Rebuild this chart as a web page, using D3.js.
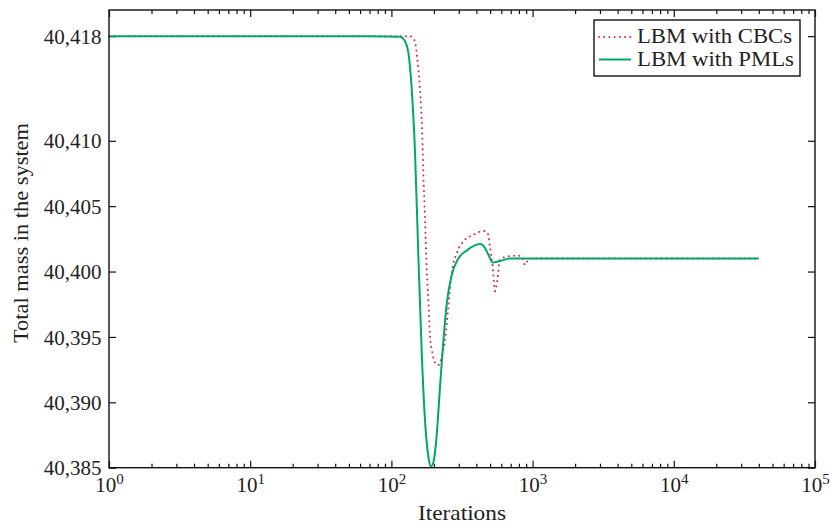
<!DOCTYPE html>
<html>
<head>
<meta charset="utf-8">
<script src="https://cdn.jsdelivr.net/npm/d3@7"></script>
<style>
  html, body { margin: 0; padding: 0; background: #fff; }
  svg text { font-family: "Liberation Serif", "Times New Roman", serif; fill: #222; }
</style>
</head>
<body>
<svg id="chart" width="830" height="527"></svg>
<script>
// ---- data ----
const seriesNames = ["LBM with CBCs", "LBM with PMLs"];

const cbcIter = [1, 70, 120, 135.5, 147, 152, 159, 164, 168, 173, 178, 183, 188, 195, 204, 215, 227, 240, 253, 267, 290, 323, 380, 448, 478, 499, 521, 542, 562, 587, 638, 730, 814, 859, 883, 933, 1012, 2000, 40000];
const cbcMass = [40418, 40418, 40418, 40418, 40417.6, 40416.4, 40414.1, 40411.6, 40407.8, 40404.0, 40400.1, 40397.6, 40395.0, 40393.8, 40393.0, 40392.85, 40393.5, 40394.8, 40397.3, 40399.9, 40401.4, 40402.3, 40402.8, 40403.1, 40403.0, 40401.9, 40400.4, 40398.5, 40399.3, 40400.9, 40401.1, 40401.2, 40401.2, 40400.9, 40400.5, 40400.9, 40401.0, 40401.0, 40401.0];

const pmlIter = [1, 70, 115, 125, 132, 139, 147, 155, 164, 173, 183, 191, 200, 209, 221, 233, 247, 267, 298, 341, 424, 460, 486, 521, 587, 692, 772, 1840, 40000];
const pmlMass = [40418, 40418, 40417.95, 40417.6, 40416.7, 40414.1, 40409.1, 40401.4, 40393.8, 40388.6, 40385.8, 40385.1, 40385.6, 40387.4, 40391.2, 40394.6, 40397.6, 40399.7, 40401.0, 40401.6, 40402.1, 40401.8, 40401.3, 40400.7, 40400.8, 40401.0, 40401.0, 40401.0, 40401.0];

const yTickValues = [40385, 40390, 40395, 40400, 40405, 40410, 40418];
const xMajorTicks = [1, 10, 100, 1000, 10000, 100000];
const xMinorTicks = [];
for (let e = 0; e < 5; e++) for (let m = 2; m <= 9; m++) xMinorTicks.push(m * Math.pow(10, e));

// ---- layout ----
const svg = d3.select("#chart");
const L = 109, R = 815, T = 10, B = 467.7;
const x = d3.scaleLog().domain([1, 1e5]).range([L, R]);
const y = d3.scaleLinear().domain([40385, 40420]).range([B, T]);

const colRed = "#e2264f";
const colGreen = "#00a865";

function styleAxis(g) {
  g.select(".domain").remove();
  g.selectAll(".tick line").attr("stroke", "#111").attr("stroke-width", 1.2);
}
// bottom majors
const gxB = svg.append("g").attr("transform", `translate(0,${B})`)
  .call(d3.axisBottom(x).tickValues(xMajorTicks).tickSize(-7).tickFormat(""));
styleAxis(gxB);
gxB.selectAll(".tick").each(function(d) {
  const t = d3.select(this).append("text")
    .attr("x", 0).attr("y", 24.5).attr("text-anchor", "middle")
    .style("font-size", "21px");
  t.append("tspan").text("10");
  t.append("tspan").attr("dy", "-8").style("font-size", "15px").text(Math.round(Math.log10(d)));
});
svg.append("g").attr("transform", `translate(0,${B})`)
  .call(d3.axisBottom(x).tickValues(xMinorTicks).tickSize(-4).tickFormat(""))
  .call(styleAxis);
// top
svg.append("g").attr("transform", `translate(0,${T})`)
  .call(d3.axisTop(x).tickValues(xMajorTicks).tickSize(-7).tickFormat(""))
  .call(styleAxis);
svg.append("g").attr("transform", `translate(0,${T})`)
  .call(d3.axisTop(x).tickValues(xMinorTicks).tickSize(-4).tickFormat(""))
  .call(styleAxis);
// left
const gyL = svg.append("g").attr("transform", `translate(${L},0)`)
  .call(d3.axisLeft(y).tickValues(yTickValues).tickSize(-7).tickPadding(8).tickFormat(d3.format(",")));
styleAxis(gyL);
gyL.selectAll(".tick text").attr("x", -7.5).attr("dy", "0.34em")
  .style("font-size", "21px").attr("fill", "#222");
// right
svg.append("g").attr("transform", `translate(${R},0)`)
  .call(d3.axisRight(y).tickValues(yTickValues).tickSize(-7).tickFormat(""))
  .call(styleAxis);

// lines
const line = d3.line().x(d => x(d[0])).y(d => y(d[1])).curve(d3.curveMonotoneX);
const cbc = cbcIter.map((v, i) => [v, cbcMass[i]]);
const pml = pmlIter.map((v, i) => [v, pmlMass[i]]);

svg.append("path").datum(cbc).attr("d", line)
  .attr("fill", "none").attr("stroke", colRed).attr("stroke-width", 2)
  .attr("stroke-linecap", "round").attr("stroke-dasharray", "0.01,5.2");
svg.append("path").datum(pml).attr("d", line)
  .attr("fill", "none").attr("stroke", colGreen).attr("stroke-width", 2);

// frame
svg.append("rect").attr("x", L).attr("y", T).attr("width", R - L).attr("height", B - T)
  .attr("fill", "none").attr("stroke", "#111").attr("stroke-width", 1.4);

// legend
const lg = svg.append("g");
lg.append("rect").attr("x", 594).attr("y", 20).attr("width", 206).attr("height", 56)
  .attr("fill", "#fff").attr("stroke", "#111").attr("stroke-width", 1.4);
const rows = [{ c: colRed, dash: "0.01,5.2", yy: 37, base: 43 }, { c: colGreen, dash: null, yy: 59.5, base: 66 }];
rows.forEach((r, i) => {
  lg.append("line").attr("x1", 599).attr("x2", 631).attr("y1", r.yy).attr("y2", r.yy)
    .attr("stroke", r.c).attr("stroke-width", 2)
    .attr("stroke-linecap", r.dash ? "round" : "butt")
    .attr("stroke-dasharray", r.dash);
  lg.append("text").attr("x", 637).attr("y", r.base).style("font-size", "21px")
    .attr("textLength", i === 0 ? 155 : 157).attr("lengthAdjust", "spacingAndGlyphs")
    .text(seriesNames[i]);
});

// axis titles
svg.append("text").attr("x", (L + R) / 2).attr("y", 520).attr("text-anchor", "middle")
  .style("font-size", "21px").attr("textLength", 88).attr("lengthAdjust", "spacingAndGlyphs")
  .text("Iterations");
svg.append("text").attr("transform", "translate(28,233) rotate(-90)").attr("text-anchor", "middle")
  .style("font-size", "21px").attr("textLength", 220).attr("lengthAdjust", "spacingAndGlyphs")
  .text("Total mass in the system");
</script>
</body>
</html>
